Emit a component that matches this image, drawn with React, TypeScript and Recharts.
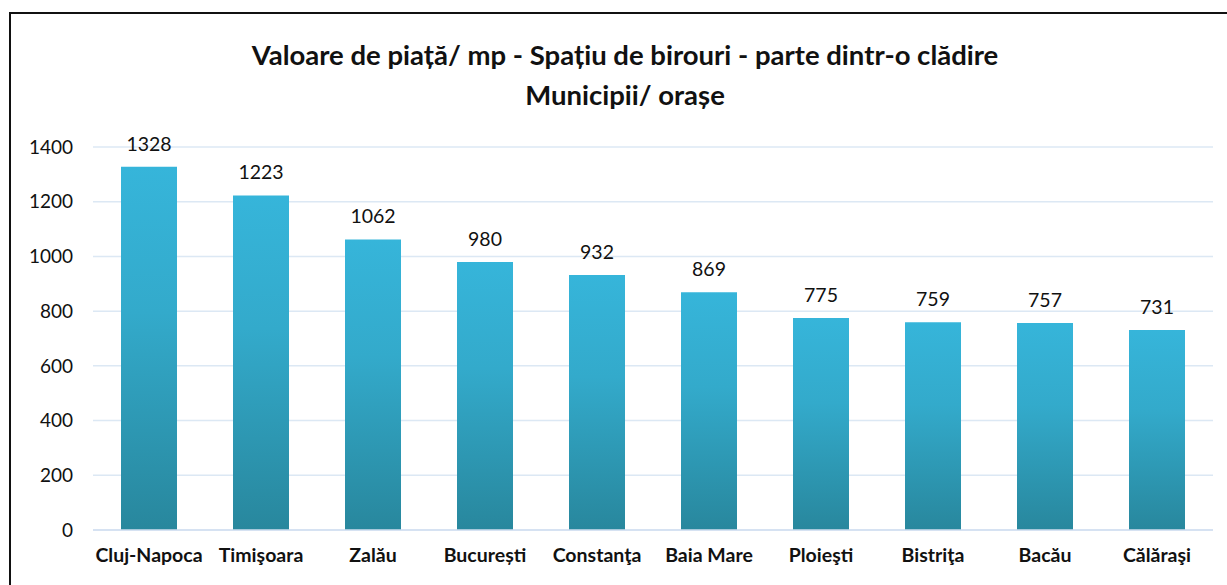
import { BarChart, Bar, XAxis, YAxis, CartesianGrid, LabelList } from "recharts"

const cities: string[] = [
    'Cluj-Napoca', 'Timişoara', 'Zalău', 'București', 'Constanţa',
    'Baia Mare', 'Ploieşti', 'Bistriţa', 'Bacău', 'Călăraşi',
]
const values: number[] = [1328, 1223, 1062, 980, 932, 869, 775, 759, 757, 731]
const yTicks: number[] = [0, 200, 400, 600, 800, 1000, 1200, 1400]

const chartData = cities.map((city, i) => ({ city, value: values[i] }))

const font = "Lato, 'Open Sans', sans-serif"

export default function App() {
    return (
        <div style={{ position: 'relative', width: 1227, height: 585, overflow: 'hidden', background: '#fff', fontFamily: font }}>
            <style>{`body{margin:0}`}</style>
            <div style={{ position: 'absolute', left: 9, top: 12, width: 1240, height: 620, border: '2px solid #111', boxSizing: 'border-box' }} />
            <div style={{ position: 'absolute', left: 0, top: 35, width: 1250, textAlign: 'center', fontWeight: 700, fontSize: 27.5, lineHeight: '40px', color: '#111' }}>
                Valoare de piață/ mp - Spațiu de birouri - parte dintr-o clădire<br />
                Municipii/ orașe
            </div>
            <BarChart
                width={1227}
                height={585}
                data={chartData}
                margin={{ top: 147, right: 14, bottom: 25, left: 0 }}
                barCategoryGap="25%"
                style={{ position: 'absolute', left: 0, top: 0 }}
            >
                <defs>
                    <linearGradient id="barFill" x1={0} y1={0} x2={0} y2={1}>
                        <stop offset="0%" stopColor="#36b5da" />
                        <stop offset="40%" stopColor="#33aacb" />
                        <stop offset="100%" stopColor="#28879d" />
                    </linearGradient>
                </defs>
                <CartesianGrid vertical={false} stroke="#dce8f4" strokeWidth={1.5} />
                <XAxis
                    dataKey="city"
                    height={30}
                    tickLine={false}
                    axisLine={{ stroke: '#d0def0', strokeWidth: 1.5 }}
                    tickMargin={12}
                    interval={0}
                    tick={{ fill: '#111', fontSize: 19.5, fontWeight: 700, fontFamily: font }}
                />
                <YAxis
                    width={93}
                    domain={[0, 1400]}
                    ticks={yTicks}
                    tickLine={false}
                    axisLine={false}
                    tickMargin={14}
                    tick={{ fill: '#111', fontSize: 19, fontFamily: font }}
                />
                <Bar dataKey="value" fill="url(#barFill)" isAnimationActive={false}>
                    <LabelList dataKey="value" position="top" offset={16} fill="#111" fontSize={19.5} fontFamily={font} />
                </Bar>
            </BarChart>
        </div>
    )
}
